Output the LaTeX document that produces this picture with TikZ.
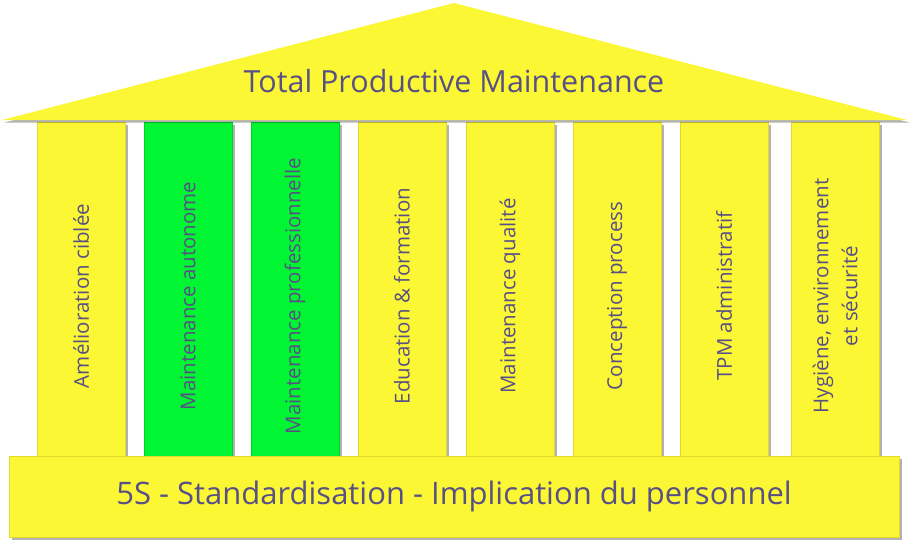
\documentclass[tikz,border=0pt]{standalone}
\usepackage{fontspec}
\setmainfont{Open Sans}
\usepackage{tikz}
\usetikzlibrary{shadows}
\definecolor{RoofYellow}{RGB}{251, 247, 52}
\definecolor{PillarGreen}{RGB}{0, 245, 50}
\definecolor{TextPurple}{RGB}{88, 80, 132}
\definecolor{EdgeYellow}{RGB}{225, 218, 45}

\begin{document}
\begin{tikzpicture}[x=1pt, y=-1pt,
  shade/.style={drop shadow={shadow xshift=2.5pt, shadow yshift=-2.5pt, fill=black, opacity=0.3}},
  pillar/.style={rectangle, fill=RoofYellow, draw=EdgeYellow, line width=0.5pt, shade, minimum width=88pt, minimum height=334pt, inner sep=0pt},
  gpillar/.style={pillar, fill=PillarGreen, draw=PillarGreen!85!black},
  plab/.style={rotate=90, text=TextPurple, font=\fontsize{20.5}{29}\selectfont, align=center},
  base/.style={rectangle, fill=RoofYellow, draw=EdgeYellow, line width=0.5pt, shade, minimum width=890pt, minimum height=81pt, inner sep=0pt},
  big/.style={text=TextPurple, font=\fontsize{31}{34}\selectfont}]
\useasboundingbox (0,0) rectangle (909,550);
% pillars
\node[pillar] (p1) at (81,289) {};
\node[gpillar] (p2) at (188,289) {};
\node[gpillar] (p3) at (295,289) {};
\node[pillar] (p4) at (402,289) {};
\node[pillar] (p5) at (510,289) {};
\node[pillar] (p6) at (617,289) {};
\node[pillar] (p7) at (724,289) {};
\node[pillar] (p8) at (835,289) {};
\node[plab] (t1) at ([yshift=-7pt]p1.center) {Amélioration ciblée};
\node[plab] (t2) at ([yshift=-7pt]p2.center) {Maintenance autonome};
\node[plab] (t3) at ([yshift=-7pt]p3.center) {Maintenance professionnelle};
\node[plab] (t4) at ([yshift=-7pt]p4.center) {Education \& formation};
\node[plab] (t5) at ([yshift=-7pt]p5.center) {Maintenance qualité};
\node[plab] (t6) at ([yshift=-7pt]p6.center) {Conception process};
\node[plab] (t7) at ([yshift=-7pt]p7.center) {TPM administratif};
\node[plab] (t8) at ([yshift=-7pt]p8.center) {Hygiène, environnement\\ et sécurité};
% base
\node[base] (base) at (454,496.5) {};
\node[big] (found) at (base.center) {5S - Standardisation - Implication du personnel};
% roof
\coordinate (rl) at (2,120);
\coordinate (rt) at (454,3);
\coordinate (rr) at (907,120);
\fill[RoofYellow, shade] (rl) -- (rt) -- (rr) -- cycle;
\node[big, font=\fontsize{30.5}{34}\selectfont] (title) at (454,81) {Total Productive Maintenance};
\end{tikzpicture}
\end{document}
